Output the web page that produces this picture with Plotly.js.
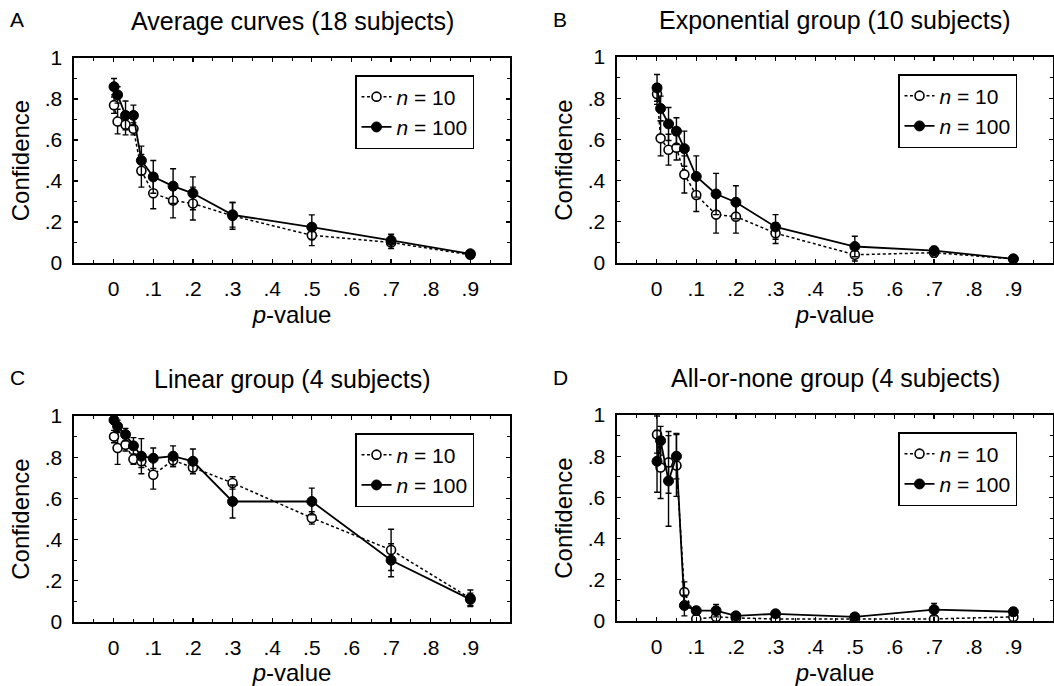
<!DOCTYPE html>
<html>
<head>
<meta charset="utf-8">
<script src="https://cdn.plot.ly/plotly-3.0.1.min.js"></script>
<style>html,body{margin:0;padding:0;background:#fff;}#chart{width:1054px;height:686px;}</style>
</head>
<body>
<div id="chart"></div>
<script>
const pvals = [0.001, 0.01, 0.03, 0.05, 0.07, 0.1, 0.15, 0.2, 0.3, 0.5, 0.7, 0.9];

const xTickVals = [0, 0.1, 0.2, 0.3, 0.4, 0.5, 0.6, 0.7, 0.8, 0.9];
const xTickText = ['0', '.1', '.2', '.3', '.4', '.5', '.6', '.7', '.8', '.9'];
const yTickVals = [0, 0.2, 0.4, 0.6, 0.8, 1];
const yTickText = ['0', '.2', '.4', '.6', '.8', '1'];

const panelTitles = ['Average curves (18 subjects)', 'Exponential group (10 subjects)', 'Linear group (4 subjects)', 'All-or-none group (4 subjects)'];
const panelLetters = ['A', 'B', 'C', 'D'];
const seriesNames = ['<i>n</i> = 10', '<i>n</i> = 100'];

// Panel A
const A_n10 = [0.77, 0.69, 0.675, 0.655, 0.45, 0.34, 0.305, 0.29, 0.23, 0.135, 0.10, 0.04];
const A_n10_err = [0.04, 0.06, 0.05, 0.03, 0.08, 0.075, 0.085, 0.08, 0.065, 0.05, 0.03, 0.01];
const A_n100 = [0.86, 0.82, 0.72, 0.72, 0.50, 0.42, 0.375, 0.34, 0.235, 0.175, 0.11, 0.045];
const A_n100_err = [0.04, 0.04, 0.07, 0.05, 0.07, 0.08, 0.085, 0.08, 0.06, 0.06, 0.03, 0.01];
// Panel B
const B_n10 = [0.82, 0.605, 0.55, 0.56, 0.43, 0.33, 0.235, 0.225, 0.145, 0.04, 0.05, 0.02];
const B_n10_err = [0.05, 0.085, 0.075, 0.06, 0.09, 0.08, 0.09, 0.08, 0.05, 0.03, 0.02, 0.01];
const B_n100 = [0.85, 0.75, 0.675, 0.64, 0.555, 0.42, 0.335, 0.295, 0.175, 0.08, 0.06, 0.02];
const B_n100_err = [0.065, 0.06, 0.08, 0.065, 0.085, 0.1, 0.1, 0.08, 0.06, 0.05, 0.02, 0.01];
// Panel C
const C_n10 = [0.90, 0.845, 0.86, 0.79, 0.78, 0.715, 0.785, 0.75, 0.675, 0.505, 0.35, 0.115];
const C_n10_err = [0.03, 0.08, 0.03, 0.025, 0.03, 0.07, 0.03, 0.02, 0.03, 0.03, 0.1, 0.04];
const C_n100 = [0.98, 0.95, 0.91, 0.855, 0.805, 0.795, 0.805, 0.78, 0.585, 0.585, 0.30, 0.11];
const C_n100_err = [0.02, 0.03, 0.03, 0.04, 0.085, 0.05, 0.05, 0.06, 0.08, 0.065, 0.08, 0.03];
// Panel D
const D_n10 = [0.905, 0.745, 0.77, 0.755, 0.14, 0.01, 0.02, 0.015, 0.01, 0.01, 0.01, 0.02];
const D_n10_err = [0.09, 0.15, 0.15, 0.15, 0.05, 0.01, 0.01, 0.01, 0.01, 0.01, 0.01, 0.01];
const D_n100 = [0.775, 0.875, 0.68, 0.80, 0.075, 0.05, 0.05, 0.025, 0.035, 0.02, 0.055, 0.045];
const D_n100_err = [0.15, 0.07, 0.22, 0.11, 0.05, 0.02, 0.03, 0.01, 0.01, 0.01, 0.03, 0.02];

const panels = [
  {n10: A_n10, e10: A_n10_err, n100: A_n100, e100: A_n100_err},
  {n10: B_n10, e10: B_n10_err, n100: B_n100, e100: B_n100_err},
  {n10: C_n10, e10: C_n10_err, n100: C_n100, e100: C_n100_err},
  {n10: D_n10, e10: D_n10_err, n100: D_n100, e100: D_n100_err}
];

const W = 1054, H = 686;
// plot boxes in pixels [left, right, top, bottom]
const boxes = [
  [74, 510, 58, 263],
  [617, 1053, 57, 263],
  [74, 510, 416, 622],
  [617, 1053, 415, 621]
];

const FONT = 'Liberation Sans, Arial, sans-serif';
const traces = [];
const layout = {
  width: W, height: H,
  margin: {l: 0, r: 0, t: 0, b: 0},
  paper_bgcolor: 'white', plot_bgcolor: 'white',
  font: {family: FONT, color: 'black', size: 21},
  showlegend: true,
  annotations: []
};

panels.forEach((p, i) => {
  const k = i === 0 ? '' : String(i + 1);
  const xa = 'x' + k, ya = 'y' + k;
  const lg = 'legend' + k;
  const b = boxes[i];
  traces.push({
    x: pvals, y: p.n10, xaxis: xa, yaxis: ya, legend: lg,
    name: seriesNames[0], type: 'scatter', mode: 'lines+markers',
    line: {color: 'black', width: 1.5, dash: '3px,2.5px'},
    marker: {symbol: 'circle', size: 9, color: 'white', line: {color: 'black', width: 1.6}},
    error_y: {type: 'data', array: p.e10, visible: true, color: 'black', thickness: 1.4, width: 3}
  });
  traces.push({
    x: pvals, y: p.n100, xaxis: xa, yaxis: ya, legend: lg,
    name: seriesNames[1], type: 'scatter', mode: 'lines+markers',
    line: {color: 'black', width: 1.8},
    marker: {symbol: 'circle', size: 10, color: 'black', line: {color: 'black', width: 1}},
    error_y: {type: 'data', array: p.e100, visible: true, color: 'black', thickness: 1.4, width: 3}
  });
  const axBase = {
    showline: true, linecolor: 'black', linewidth: 1.6, mirror: 'ticks',
    ticks: 'inside', ticklen: 4, tickwidth: 1.2, tickcolor: 'black',
    showgrid: false, zeroline: false, fixedrange: true,
    tickfont: {family: FONT, size: 21, color: 'black'}
  };
  layout['xaxis' + k] = Object.assign({}, axBase, {
    anchor: ya,
    domain: [b[0] / W, b[1] / W],
    range: [-0.1, 1.0],
    tickmode: 'array', tickvals: xTickVals, ticktext: xTickText,
    ticklabelstandoff: 6,
    minor: {tickmode: 'linear', tick0: 0, dtick: 0.05, ticks: 'inside', ticklen: 3, tickcolor: 'black', tickwidth: 1},
    title: {text: '<i>p</i>-value', font: {family: FONT, size: 24, color: 'black'}, standoff: 7}
  });
  layout['yaxis' + k] = Object.assign({}, axBase, {
    anchor: xa,
    domain: [1 - b[3] / H, 1 - b[2] / H],
    range: [0, 1],
    tickmode: 'array', tickvals: yTickVals, ticktext: yTickText,
    ticklabelstandoff: 6,
    minor: {tickmode: 'linear', tick0: 0, dtick: 0.1, ticks: 'inside', ticklen: 3, tickcolor: 'black', tickwidth: 1},
    title: {text: 'Confidence', font: {family: FONT, size: 24, color: 'black'}, standoff: 8}
  });
  layout[lg] = {
    x: (b[1] - 155) / W, y: 1 - (b[2] + 17) / H, xanchor: 'left', yanchor: 'top',
    xref: 'paper', yref: 'paper',
    bgcolor: 'white', bordercolor: 'black', borderwidth: 1.5,
    font: {family: FONT, size: 21, color: 'black'},
    itemwidth: 30, tracegroupgap: 0
  };
  layout.annotations.push({
    text: panelTitles[i], xref: 'paper', yref: 'paper',
    x: (b[0] + b[1]) / 2 / W, y: 1 - (b[2] - 37) / H, xanchor: 'center', yanchor: 'middle',
    showarrow: false, font: {family: FONT, size: 25, color: 'black'}
  });
  layout.annotations.push({
    text: panelLetters[i], xref: 'paper', yref: 'paper',
    x: (b[0] - 66) / W, y: 1 - (b[2] - 38) / H, xanchor: 'left', yanchor: 'middle',
    showarrow: false, font: {family: FONT, size: 21, color: 'black'}
  });
});

Plotly.newPlot('chart', traces, layout, {displayModeBar: false, staticPlot: true});
</script>
</body>
</html>
